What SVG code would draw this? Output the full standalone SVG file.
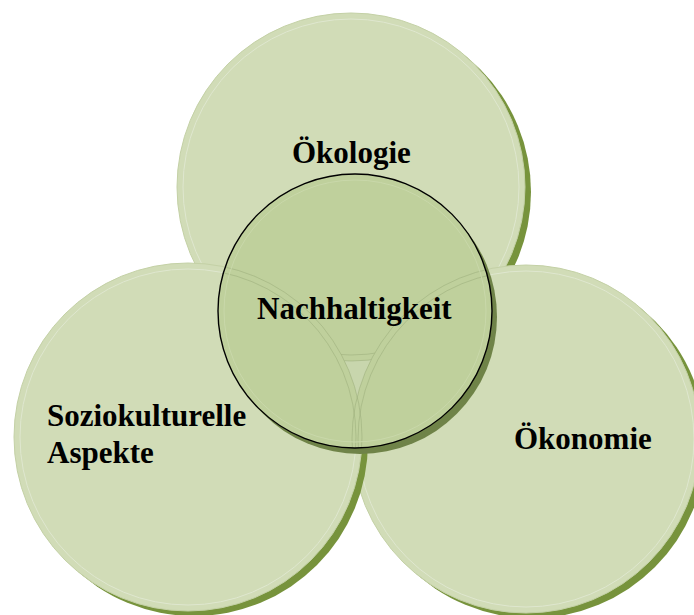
<svg xmlns="http://www.w3.org/2000/svg" width="694" height="615" viewBox="0 0 694 615">
  <style>
    .shadow { fill: #77933c; }
    .disc { fill: #d1dcb7; stroke: #c4d1a6; stroke-width: 1; }
    .rim { fill: none; stroke: #dfe7cf; stroke-width: 1; }
    .trace { fill: none; stroke: #9caf7c; stroke-width: 0.8; opacity: 0.7; }
    .core-shadow { fill: #6f8348; }
    .core { fill: #bfd09c; }
    .core-rim { fill: none; stroke: #c9d8aa; stroke-width: 1; }
    .core-edge { fill: none; stroke: #000; stroke-width: 1.4; }
    .label { font-family: "Liberation Serif", "Times New Roman", serif; font-weight: bold; font-size: 31px; fill: #000; }
  </style>
  <defs>
    <clipPath id="core-clip">
      <circle cx="355" cy="311" r="137"/>
    </clipPath>
    <!-- area of the core not covered by the two lower discs -->
    <mask id="gap-mask">
      <rect width="694" height="615" fill="#fff"/>
      <circle cx="526" cy="439" r="174" fill="#000"/>
      <circle cx="188" cy="437" r="174" fill="#000"/>
    </mask>
  </defs>

  <!-- outer circles: shadow, disc, inner rim -->
  <g id="oekologie">
    <circle class="shadow" cx="357" cy="192" r="174"/>
    <circle class="disc" cx="351" cy="187" r="174"/>
    <circle class="rim" cx="351" cy="187" r="168"/>
  </g>
  <g id="oekonomie">
    <circle class="shadow" cx="532" cy="444" r="174"/>
    <circle class="disc" cx="526" cy="439" r="174"/>
    <circle class="rim" cx="526" cy="439" r="168"/>
  </g>
  <g id="soziokulturelle">
    <circle class="shadow" cx="194" cy="442" r="174"/>
    <circle class="disc" cx="188" cy="437" r="174"/>
    <circle class="rim" cx="188" cy="437" r="168"/>
  </g>

  <!-- central circle -->
  <g id="nachhaltigkeit">
    <circle class="core-shadow" cx="360" cy="317" r="137"/>
    <circle class="core" cx="355" cy="311" r="137"/>
    <g clip-path="url(#core-clip)">
      <!-- small uncovered gap below the top disc -->
      <g mask="url(#gap-mask)">
        <rect x="300" y="340" width="100" height="80" fill="#c8d6ad"/>
        <circle cx="351" cy="187" r="174" fill="#bfd09c"/>
        <circle class="trace" cx="351" cy="187" r="174"/>
        <circle class="trace" cx="351" cy="187" r="168"/>
      </g>
      <!-- edges of the lower discs seen through the core -->
      <circle class="trace" cx="188" cy="437" r="174"/>
      <circle class="trace" cx="188" cy="437" r="168" opacity="0.45"/>
      <circle class="trace" cx="526" cy="439" r="174"/>
      <circle class="trace" cx="526" cy="439" r="168" opacity="0.45"/>
    </g>
    <circle class="core-rim" cx="355" cy="311" r="131"/>
    <circle class="core-edge" cx="355" cy="311" r="137"/>
  </g>

  <!-- labels -->
  <g id="labels">
    <text class="label" x="292" y="163">Ökologie</text>
    <text class="label" x="257" y="319">Nachhaltigkeit</text>
    <text class="label" x="47" y="426">Soziokulturelle</text>
    <text class="label" x="47" y="463">Aspekte</text>
    <text class="label" x="514" y="449">Ökonomie</text>
  </g>
</svg>
